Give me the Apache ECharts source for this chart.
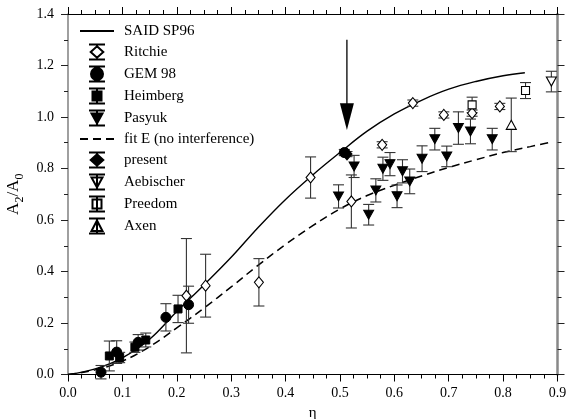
<!DOCTYPE html>
<html><head><meta charset="utf-8">
<script src="https://cdn.jsdelivr.net/npm/echarts@6/dist/echarts.min.js"></script>
<style>html,body{margin:0;padding:0;background:#fff}#c{width:567px;height:419px}</style>
</head><body><div id="c"></div>
<script>
// ---- tick labels ----
const xTickLabels = ['0.0','0.1','0.2','0.3','0.4','0.5','0.6','0.7','0.8','0.9'];
const yTickLabels = ['0.0','0.2','0.4','0.6','0.8','1.0','1.2','1.4'];

// ---- curves ----
const saidX = [0,0.05,0.1,0.15,0.2,0.25,0.3,0.35,0.4,0.45,0.5,0.55,0.6,0.65,0.7,0.75,0.8,0.84];
const saidY = [0,0.022,0.065,0.137,0.245,0.348,0.455,0.572,0.68,0.775,0.862,0.945,1.012,1.065,1.108,1.138,1.160,1.172];
const fitX = [0,0.05,0.1,0.15,0.2,0.25,0.3,0.35,0.4,0.45,0.5,0.55,0.6,0.65,0.7,0.75,0.8,0.85,0.89];
const fitY = [0,0.018,0.052,0.108,0.181,0.258,0.34,0.425,0.505,0.578,0.643,0.695,0.735,0.771,0.804,0.834,0.862,0.885,0.903];

// ---- data sets (x, y, error) ----
const ritchieX = [0.2177,0.253,0.351,0.446,0.521,0.5776,0.634,0.691,0.743,0.794];
const ritchieY = [0.306,0.345,0.358,0.765,0.672,0.892,1.054,1.008,1.015,1.041];
const ritchieE = [0.222,0.122,0.092,0.08,0.103,0.012,0.012,0.012,0.012,0.012];
const gemX = [0.0607,0.0895,0.129,0.180,0.2217,0.508];
const gemY = [0.009,0.087,0.125,0.222,0.271,0.862];
const gemE = [0.026,0.044,0.03,0.053,0.072,0.012];
const heimX = [0.076,0.095,0.123,0.143,0.2023];
const heimY = [0.072,0.066,0.106,0.134,0.2546];
const heimE = [0.058,0.02,0.02,0.027,0.053];
const pasX = [0.4974,0.526,0.5528,0.566,0.579,0.592,0.605,0.615,0.6283,0.651,0.6744,0.6964,0.7178,0.74,0.78];
const pasY = [0.6916,0.808,0.6205,0.715,0.799,0.817,0.692,0.789,0.750,0.838,0.914,0.847,0.957,0.944,0.914];
const pasE = [0.045,0.043,0.04,0.045,0.045,0.045,0.044,0.045,0.048,0.05,0.042,0.04,0.063,0.048,0.042];
const presentX = [0.513];
const presentY = [0.856];
const presentE = [0.01];
const aebX = [0.8887];
const aebY = [1.1376];
const aebE = [0.04];
const preX = [0.743,0.8412];
const preY = [1.047,1.1027];
const preE = [0.03,0.031];
const axenX = [0.815];
const axenY = [0.9695];
const axenE = [0.104];

// ---- arrow ----
const arrowX = [0.5128];
const arrowTop = [1.30];
const arrowHeadBase = [1.053];
const arrowTip = [0.95];

const FONT = 'Liberation Serif';
const pairs = (xs, ys) => xs.map((x, i) => [x, ys[i]]);
const triples = (xs, ys, es) => xs.map((x, i) => [x, ys[i], es[i]]);

const errData = [].concat(
  triples(ritchieX, ritchieY, ritchieE), triples(gemX, gemY, gemE),
  triples(heimX, heimY, heimE), triples(pasX, pasY, pasE),
  triples(presentX, presentY, presentE), triples(aebX, aebY, aebE),
  triples(preX, preY, preE), triples(axenX, axenY, axenE));

function errItem(params, api) {
  const x = api.value(0), y = api.value(1), e = api.value(2);
  const t = api.coord([x, y + e]), b = api.coord([x, y - e]);
  const hw = 5.5;
  const st = {stroke: '#333', lineWidth: 1.1};
  return {type: 'group', children: [
    {type: 'line', shape: {x1: t[0], y1: t[1], x2: b[0], y2: b[1]}, style: st},
    {type: 'line', shape: {x1: t[0] - hw, y1: t[1], x2: t[0] + hw, y2: t[1]}, style: st},
    {type: 'line', shape: {x1: b[0] - hw, y1: b[1], x2: b[0] + hw, y2: b[1]}, style: st}
  ]};
}
function arrowItem(params, api) {
  const x = api.value(0);
  const p0 = api.coord([x, api.value(1)]);
  const p1 = api.coord([x, api.value(2)]);
  const p2 = api.coord([x, api.value(3)]);
  const hw = 7;
  return {type: 'group', children: [
    {type: 'line', shape: {x1: p0[0], y1: p0[1], x2: p1[0], y2: p1[1] + 2}, style: {stroke: '#000', lineWidth: 1.3}},
    {type: 'polygon', shape: {points: [[p1[0] - hw, p1[1]], [p1[0] + hw, p1[1]], [p2[0], p2[1]]]}, style: {fill: '#000'}}
  ]};
}

// legend icon paths (16 x 15 box: caps + bar + marker)
const BAR = 'M0,0L16,0M0,15L16,15';
const icons = {
  diamond: 'path://' + BAR + 'M8,0L8,1.8M8,13.2L8,15M8,1.8L14.3,7.5L8,13.2L1.7,7.5Z',
  circle: 'path://' + BAR + 'M8,0L8,15M2,7.5A6,6 0 1,0 14,7.5A6,6 0 1,0 2,7.5Z',
  square: 'path://' + BAR + 'M8,0L8,15M3.5,3L12.5,3L12.5,12L3.5,12Z',
  down: 'path://' + BAR + 'M8,0L8,15M2.5,3L13.5,3L8,13Z',
  up: 'path://' + BAR + 'M8,0L8,15M2.5,12.5L13.5,12.5L8,2Z'
};

const filled = {color: '#000', borderColor: '#000', borderWidth: 1, opacity: 1};
const open = {color: '#fff', borderColor: '#000', borderWidth: 1.1, opacity: 1};

function scatter(name, xs, ys, symbol, size, style, rotate) {
  return {name, type: 'scatter', data: pairs(xs, ys), symbol, symbolSize: size,
    symbolRotate: rotate || 0, itemStyle: style, z: 4, silent: true};
}

const axisCommonX = {
  type: 'value', min: 0, max: 0.9, interval: 0.1,
  axisLine: {show: true, onZero: false, lineStyle: {color: '#000', width: 1}},
  axisTick: {show: true, length: 7, lineStyle: {color: '#000', width: 1}},
  minorTick: {show: true, splitNumber: 4, length: 4, lineStyle: {color: '#000', width: 1}},
  splitLine: {show: false}, minorSplitLine: {show: false}
};
const axisCommonY = {
  type: 'value', min: 0, max: 1.4, interval: 0.2,
  axisLine: {show: true, onZero: false, lineStyle: {color: '#888', width: 1.6}},
  axisTick: {show: true, length: 7, lineStyle: {color: '#222', width: 1}},
  minorTick: {show: true, splitNumber: 2, length: 4, lineStyle: {color: '#222', width: 1}},
  splitLine: {show: false}, minorSplitLine: {show: false}
};

const option = {
  animation: false,
  backgroundColor: '#fff',
  grid: {left: 68, right: 9.5, top: 14, bottom: 44.5, containLabel: false, outerBoundsMode: 'none'},
  xAxis: [
    Object.assign({}, axisCommonX, {position: 'bottom',
      axisLabel: {margin: 12, fontFamily: FONT, fontSize: 14, color: '#000',
        formatter: v => xTickLabels[Math.round(v / 0.1)]},
      name: 'η', nameLocation: 'middle', nameGap: 28,
      nameTextStyle: {fontFamily: FONT, fontSize: 15, color: '#000'}}),
    Object.assign({}, axisCommonX, {position: 'top', axisLabel: {show: false}})
  ],
  yAxis: [
    Object.assign({}, axisCommonY, {position: 'left',
      axisLabel: {margin: 14, fontFamily: FONT, fontSize: 14, color: '#000',
        formatter: v => yTickLabels[Math.round(v / 0.2)]},
      name: '{a|A}{s|2}{a|/A}{s|0}', nameLocation: 'middle', nameGap: 36, nameRotate: 90,
      nameTextStyle: {fontFamily: FONT, fontSize: 17, color: '#000',
        rich: {a: {fontFamily: FONT, fontSize: 17, color: '#000'},
               s: {fontFamily: FONT, fontSize: 12, color: '#000', padding: [12, 0, 0, 0]}}}}),
    Object.assign({}, axisCommonY, {position: 'right', axisLabel: {show: false},
      axisLine: {show: true, onZero: false, lineStyle: {color: '#888', width: 2.5}}})
  ],
  legend: {
    orient: 'vertical', left: 74, top: 18.5, itemWidth: 34, itemHeight: 15, itemGap: 5,
    selectedMode: false,
    textStyle: {fontFamily: FONT, fontSize: 15, color: '#000', padding: [0, 0, 0, 5]},
    data: [
      {name: 'SAID SP96', itemStyle: {opacity: 0}},
      {name: 'Ritchie', icon: icons.diamond},
      {name: 'GEM 98', icon: icons.circle},
      {name: 'Heimberg', icon: icons.square},
      {name: 'Pasyuk', icon: icons.down},
      {name: 'fit E (no interference)', itemStyle: {opacity: 0}},
      {name: 'present', icon: icons.diamond},
      {name: 'Aebischer', icon: icons.down},
      {name: 'Preedom', icon: icons.square},
      {name: 'Axen', icon: icons.up}
    ]
  },
  series: [
    {name: 'SAID SP96', type: 'line', data: pairs(saidX, saidY), symbol: 'none', showSymbol: false,
      smooth: 0.4, lineStyle: {color: '#000', width: 1.4}, itemStyle: {color: '#000'}, z: 2, silent: true},
    {name: 'fit E (no interference)', type: 'line', data: pairs(fitX, fitY), symbol: 'none', showSymbol: false,
      smooth: 0.4, lineStyle: {color: '#000', width: 1.5, type: [8, 5]}, itemStyle: {color: '#000'}, z: 2, silent: true},
    {name: 'err', type: 'custom', data: errData, renderItem: errItem, encode: {x: 0, y: 1}, z: 3, silent: true},
    scatter('Ritchie', ritchieX, ritchieY, 'diamond', [9, 11], open),
    scatter('GEM 98', gemX, gemY, 'circle', 10, filled),
    scatter('Heimberg', heimX, heimY, 'rect', 8, filled),
    scatter('Pasyuk', pasX, pasY, 'triangle', [10, 9], filled, 180),
    scatter('present', presentX, presentY, 'diamond', [10, 12], filled),
    scatter('Aebischer', aebX, aebY, 'triangle', [10, 9], open, 180),
    scatter('Preedom', preX, preY, 'rect', 8, open),
    scatter('Axen', axenX, axenY, 'triangle', [10, 9], open),
    {name: 'arrow', type: 'custom', renderItem: arrowItem, encode: {x: 0, y: 1},
      data: arrowX.map((x, i) => [x, arrowTop[i], arrowHeadBase[i], arrowTip[i]]), z: 5, silent: true}
  ]
};
const chart = echarts.init(document.getElementById('c'), null, {renderer: 'canvas'});
chart.setOption(option);
</script></body></html>
